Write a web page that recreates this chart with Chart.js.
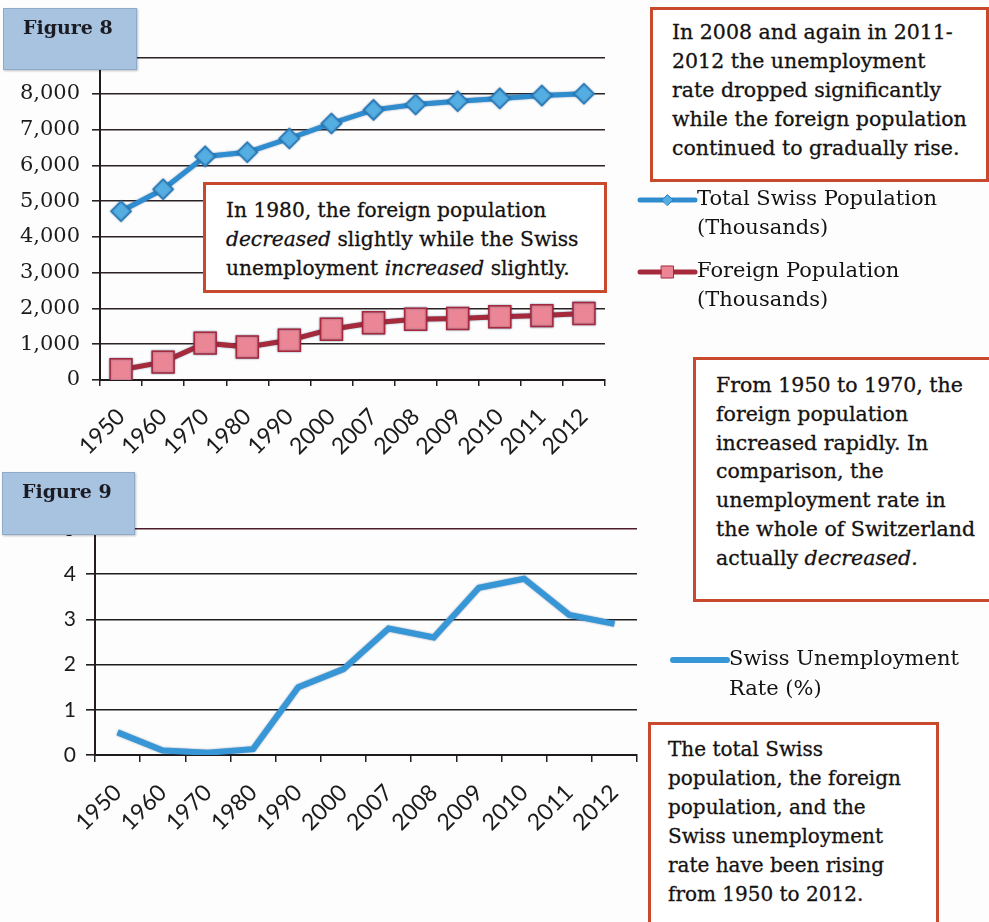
<!DOCTYPE html>
<html>
<head>
<meta charset="utf-8">
<script src="https://cdn.jsdelivr.net/npm/chart.js@4.4.0/dist/chart.umd.min.js"></script>
<style>
  html, body { margin: 0; padding: 0; background: #fff; }
  #page { position: relative; width: 989px; height: 922px; overflow: hidden; background: #fdfdfd; }
  canvas { position: absolute; left: 0; }
  #fig8 { top: 0; }
  #fig9 { top: 460px; }
  .figlabel {
    position: absolute; box-sizing: border-box;
    background: #a7c3df; border: 1px solid #8eaacb;
    box-shadow: 1px 1px 2px rgba(0,0,0,0.25);
    font-family: "DejaVu Serif", serif; font-weight: bold; font-size: 19px; color: #1b1b24;
    padding: 7px 0 0 19px;
  }
  .note {
    position: absolute; box-sizing: border-box;
    background: #fff; border: 3px solid #c8492c;
    font-family: "DejaVu Serif", serif; font-size: 20.5px; line-height: 29px; color: #151212;
    -webkit-text-stroke: 0.3px #151212;
    white-space: nowrap;
  }
</style>
</head>
<body>
<div id="page">
  <canvas id="fig8" width="989" height="460"></canvas>
  <canvas id="fig9" width="989" height="462"></canvas>

  <div class="figlabel" style="left:3px;top:8px;width:134px;height:62px;">Figure 8</div>
  <div class="figlabel" style="left:2px;top:472px;width:133px;height:63px;">Figure 9</div>

  <div class="note" style="left:650px;top:7px;width:339px;height:175px;padding:8px 0 0 19px;">
    In 2008 and again in 2011-<br>2012 the unemployment<br>rate dropped significantly<br>while the foreign population<br>continued to gradually rise.
  </div>
  <div class="note" style="left:203px;top:182px;width:404px;height:111px;padding:11px 0 0 20px;font-size:20.2px;">
    In 1980, the foreign population<br><i>decreased</i> slightly while the Swiss<br>unemployment <i>increased</i> slightly.
  </div>
  <div class="note" style="left:693px;top:357px;width:300px;height:245px;padding:11px 0 0 20px;line-height:28.8px;">
    From 1950 to 1970, the<br>foreign population<br>increased rapidly. In<br>comparison, the<br>unemployment rate in<br>the whole of Switzerland<br>actually <i>decreased.</i>
  </div>
  <div class="note" style="left:648px;top:722px;width:291px;height:220px;padding:10px 0 0 17px;font-size:20px;">
    The total Swiss<br>population, the foreign<br>population, and the<br>Swiss unemployment<br>rate have been rising<br>from 1950 to 2012.
  </div>
</div>

<script>
// categories (both figures use the same years)
const years = ['1950', '1960', '1970', '1980', '1990', '2000', '2007', '2008', '2009', '2010', '2011', '2012'];

// Figure 8 - population in thousands
const totalSwiss = [4715, 5330, 6250, 6365, 6750, 7170, 7550, 7700, 7790, 7870, 7950, 8000];
const foreignPop = [285, 500, 1030, 920, 1110, 1420, 1600, 1700, 1720, 1770, 1800, 1860];

// Figure 9 - unemployment rate in %
const unemployment = [0.5, 0.1, 0.05, 0.13, 1.5, 1.9, 2.8, 2.6, 3.7, 3.9, 3.1, 2.9];

// legend texts (two lines each)
const totalLegend = ['Total Swiss Population', '(Thousands)'];
const foreignLegend = ['Foreign Population', '(Thousands)'];
const unempLegend = ['Swiss Unemployment', 'Rate (%)'];

function drawMarker(ctx, style, x, y, r) {
  ctx.beginPath();
  if (style === 'rectRot') {
    ctx.moveTo(x - r, y); ctx.lineTo(x, y - r); ctx.lineTo(x + r, y); ctx.lineTo(x, y + r);
  } else {
    const s = r * Math.SQRT1_2;
    ctx.rect(x - s, y - s, 2 * s, 2 * s);
  }
  ctx.closePath();
  ctx.fill();
  ctx.stroke();
}

// legend beside the plot, drawn from the datasets
const sideLegend = {
  id: 'sideLegend',
  afterDraw(chart, args, opts) {
    const ctx = chart.ctx;
    ctx.save();
    chart.data.datasets.forEach((ds, i) => {
      const y = opts.top + i * opts.itemGap;
      ctx.strokeStyle = ds.borderColor;
      ctx.lineWidth = ds.borderWidth;
      ctx.lineCap = 'round';
      ctx.beginPath();
      ctx.moveTo(opts.left, y);
      ctx.lineTo(opts.left + opts.swatch, y);
      ctx.stroke();
      if (ds.pointRadius > 0) {
        ctx.fillStyle = ds.pointBackgroundColor;
        ctx.strokeStyle = ds.pointBorderColor;
        ctx.lineWidth = 1;
        drawMarker(ctx, ds.pointStyle, opts.left + opts.swatch / 2, y, ds.pointRadius * opts.markerScale);
      }
      ctx.fillStyle = opts.color;
      ctx.font = opts.font;
      ctx.textBaseline = 'middle';
      ds.legendText.forEach((line, j) => {
        ctx.fillText(line, opts.left + opts.swatch + 2, y + j * opts.lineHeight);
      });
    });
    ctx.restore();
  }
};

// soft dark edge round the thick lines, like the scanned original
const lineEdge = {
  id: 'lineEdge',
  beforeDatasetDraw(chart) {
    chart.ctx.save();
    chart.ctx.shadowColor = 'rgba(20, 70, 120, 0.55)';
    chart.ctx.shadowBlur = 2;
  },
  afterDatasetDraw(chart) {
    chart.ctx.restore();
  }
};

new Chart(document.getElementById('fig8'), {
  type: 'line',
  data: {
    labels: years,
    datasets: [{
      label: totalLegend.join(' '),
      legendText: totalLegend,
      data: totalSwiss,
      borderColor: '#2f8ccf',
      borderWidth: 5,
      pointStyle: 'rectRot',
      pointRadius: 10,
      pointBackgroundColor: '#55aee2',
      pointBorderColor: '#2a7dbb',
      pointBorderWidth: 1.5,
      tension: 0
    }, {
      label: foreignLegend.join(' '),
      legendText: foreignLegend,
      data: foreignPop,
      borderColor: '#a52a3c',
      borderWidth: 5,
      pointStyle: 'rect',
      pointRadius: 15.5,
      pointBackgroundColor: '#ea8695',
      pointBorderColor: '#a8283a',
      pointBorderWidth: 1.5,
      tension: 0
    }]
  },
  options: {
    responsive: false,
    animation: false,
    layout: { padding: { top: 58, right: 384, bottom: 0, left: 0 } },
    plugins: {
      legend: { display: false },
      tooltip: { enabled: false },
      sideLegend: { left: 640, top: 200, itemGap: 72, lineHeight: 29, swatch: 55, markerScale: 0.55,
                    font: '21px "DejaVu Serif"', color: '#151212' }
    },
    scales: {
      x: {
        offset: true,
        grid: { offset: true, drawOnChartArea: false, tickLength: 6, color: '#222', lineWidth: 1.5 },
        border: { color: '#1f1a1c', width: 2 },
        ticks: { autoSkip: false, maxRotation: 45, minRotation: 45, padding: 17,
                 font: { family: 'Lato', size: 23 }, color: '#1b1b1b' },
        afterFit(s) { s.height = 80; }
      },
      y: {
        min: 0, max: 9000,
        ticks: { stepSize: 1000, padding: 12, font: { family: 'DejaVu Serif', size: 21 }, color: '#1b1b1b',
                 callback: v => v.toLocaleString('en-US') },
        grid: { color: '#2a2224', lineWidth: 1.6, tickLength: 8 },
        border: { color: '#1f1a1c', width: 2 },
        afterFit(s) { s.width = 100; }
      }
    }
  },
  plugins: [sideLegend, lineEdge]
});

new Chart(document.getElementById('fig9'), {
  type: 'line',
  data: {
    labels: years,
    datasets: [{
      label: unempLegend.join(' '),
      legendText: unempLegend,
      data: unemployment,
      borderColor: '#3797d6',
      borderWidth: 6,
      pointRadius: 0,
      tension: 0
    }]
  },
  options: {
    responsive: false,
    animation: false,
    layout: { padding: { top: 69, right: 352, bottom: 0, left: 0 } },
    plugins: {
      legend: { display: false },
      tooltip: { enabled: false },
      sideLegend: { left: 673, top: 200, itemGap: 60, lineHeight: 30, swatch: 54, markerScale: 0.5,
                    font: '21px "DejaVu Serif"', color: '#151212' }
    },
    scales: {
      x: {
        offset: true,
        grid: { offset: true, drawOnChartArea: false, tickLength: 7, color: '#222', lineWidth: 1.5 },
        border: { color: '#1f1a1c', width: 2 },
        ticks: { autoSkip: false, maxRotation: 45, minRotation: 45, padding: 17,
                 font: { family: 'Lato', size: 23 }, color: '#1b1b1b' },
        afterFit(s) { s.height = 167; }
      },
      y: {
        min: 0, max: 5,
        ticks: { stepSize: 1, padding: 10, font: { family: 'Lato', size: 21 }, color: '#1b1b1b' },
        grid: { color: c => c.tick && c.tick.value === 5 ? '#4d1c28' : '#1e1e1e', lineWidth: 1.6, tickLength: 9 },
        border: { color: '#2a1a1e', width: 2 },
        afterFit(s) { s.width = 95; }
      }
    }
  },
  plugins: [sideLegend, lineEdge]
});
</script>
</body>
</html>
